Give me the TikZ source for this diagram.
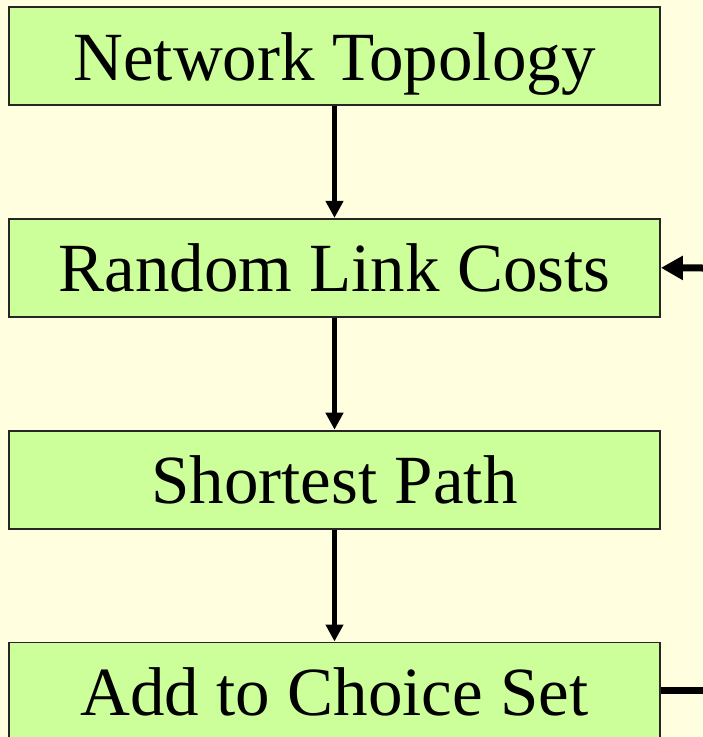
\documentclass[tikz,border=0pt]{standalone}
\usepackage{fontspec}
\setmainfont{Liberation Serif}
\usetikzlibrary{positioning,arrows.meta}
\definecolor{paper}{RGB}{255,255,224}
\definecolor{boxgreen}{RGB}{204,255,153}

\begin{document}
\begin{tikzpicture}[
  x=1pt, y=1pt,
  node distance=112pt,
  stage/.style={rectangle, draw=black!85, line width=1.8pt, fill=boxgreen,
    minimum width=651pt, minimum height=98pt, inner sep=0pt,
    text height=48pt, text depth=0pt,
    font=\fontsize{69}{80}\selectfont},
  flow/.style={draw, line width=4.5pt, -{Triangle[length=17pt,width=17pt]}},
  loop/.style={draw, line width=7pt}
]
\useasboundingbox (0,0) rectangle (703,-737);
\fill[paper] (0,0) rectangle (703,-737);
\clip (0,0) rectangle (703,-737);

\node[stage] (topo) at (334.5,-56) {Network Topology};
\node[stage, below=of topo] (cost) {Random Link Costs};
\node[stage, below=of cost] (path) {Shortest Path};
\node[stage, below=of path] (choice) {Add to Choice Set};

\draw[flow] (topo) -- (cost);
\draw[flow] (cost) -- (path);
\draw[flow] (path) -- (choice);

% loop back from the choice set
\coordinate (loopin) at (703,-268);
\coordinate (loopout) at (703,-690);
\draw[loop, -{Triangle[length=22pt,width=23pt]}] (loopin) -- (cost.east);
\draw[loop] (choice.east |- loopout) -- (loopout);
\end{tikzpicture}
\end{document}
